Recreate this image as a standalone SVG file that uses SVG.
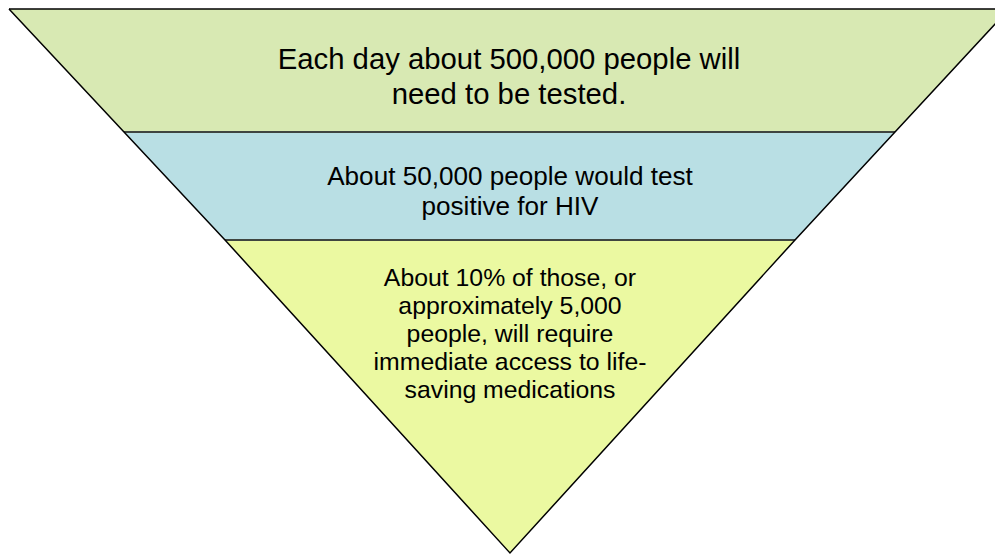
<svg xmlns="http://www.w3.org/2000/svg" width="995" height="555" viewBox="0 0 995 555">
<style>
.edge{stroke:#000;stroke-width:1.5;fill:none;stroke-linejoin:miter}
.sep{stroke:#3f4540;stroke-width:2;fill:none}
text{font-family:"Liberation Sans",Arial,sans-serif;fill:#000;text-anchor:middle}
</style>
<rect width="995" height="555" fill="#fff"/>
<g id="level-top">
<polygon points="9,9 1009,9 895,132 124,132" fill="#D8E9B3"/>
<text font-size="29.3"><tspan x="509" y="69">Each day about 500,000 people will</tspan><tspan x="509" y="104">need to be tested.</tspan></text>
</g>
<g id="level-middle">
<polygon points="124,132 895,132 795,240 225,240" fill="#B9DFE4"/>
<text font-size="26.1"><tspan x="510" y="185">About 50,000 people would test</tspan><tspan x="510" y="215">positive for HIV</tspan></text>
</g>
<g id="level-bottom">
<polygon points="225,240 795,240 510,553" fill="#EBF9A1"/>
<text font-size="24.8"><tspan x="510" y="286">About 10% of those, or</tspan><tspan x="510" y="314">approximately 5,000</tspan><tspan x="510" y="342">people, will require</tspan><tspan x="510" y="370">immediate access to life-</tspan><tspan x="510" y="398">saving medications</tspan></text>
</g>
<g id="outline">
<line class="sep" x1="124" y1="132" x2="895" y2="132"/>
<line class="sep" x1="225" y1="240" x2="795" y2="240"/>
<polyline class="edge" points="9,9 124,132 225,240 510,553 795,240 895,132 1009,9"/>
<line class="edge" x1="9" y1="9" x2="995" y2="9"/>
</g>
</svg>
